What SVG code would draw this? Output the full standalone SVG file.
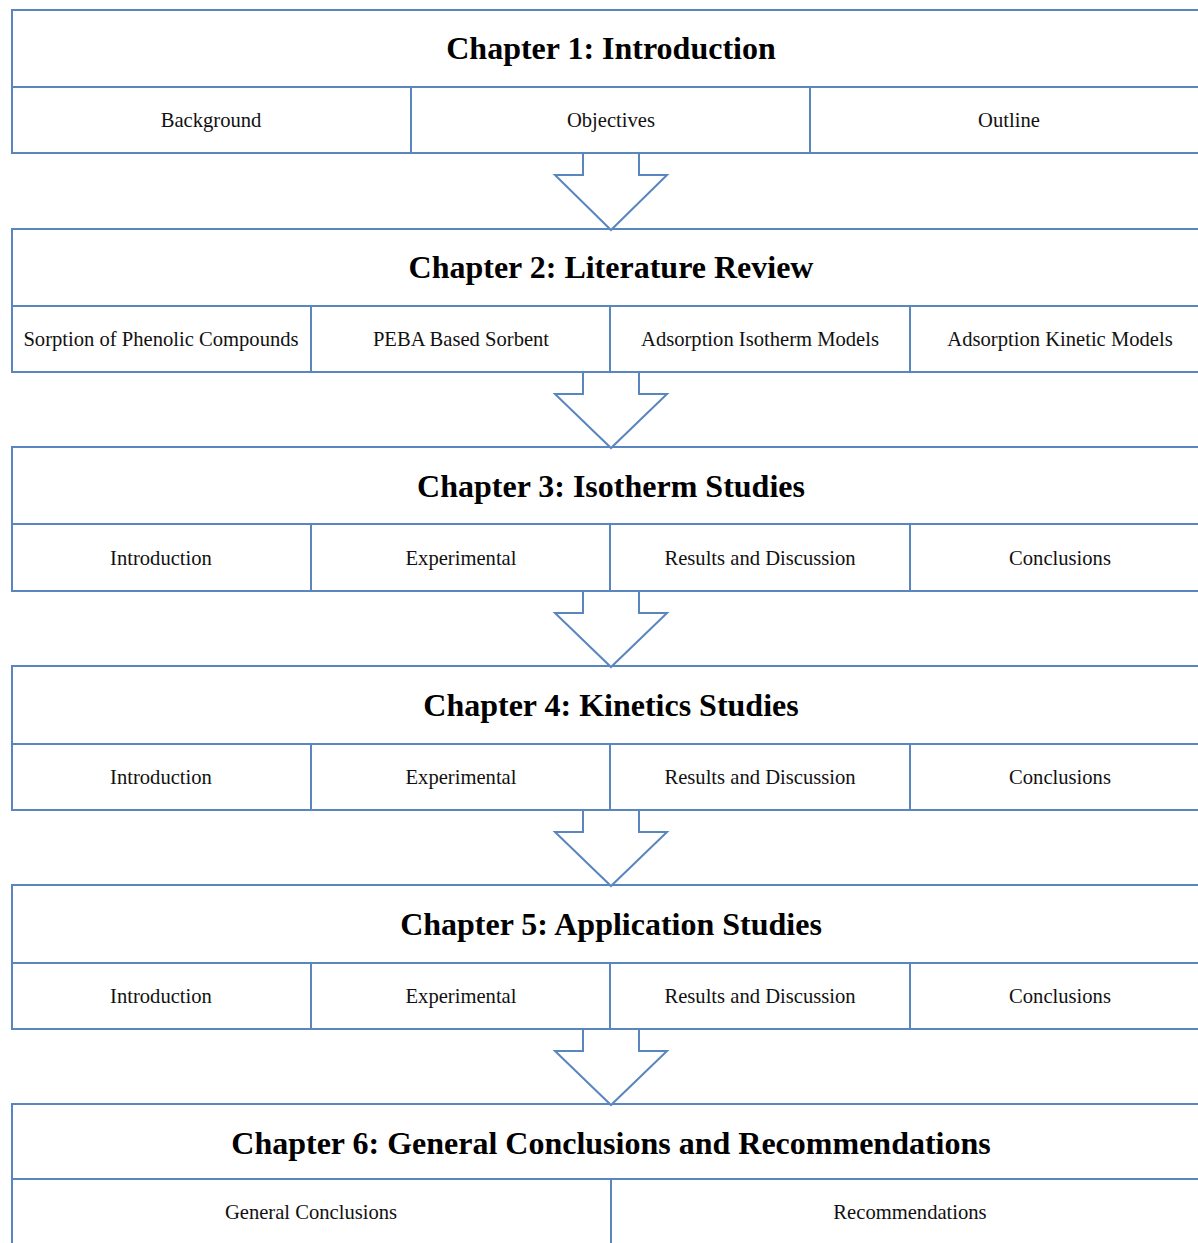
<svg xmlns="http://www.w3.org/2000/svg" width="1198" height="1243" viewBox="0 0 1198 1243">
<defs>
<style>
.box{fill:#fff;stroke:#5a86c0;stroke-width:2}
.ln{stroke:#5a86c0;stroke-width:2;fill:none}
.arr{fill:#fff;stroke:#5a86c0;stroke-width:2;stroke-linejoin:miter}
.t{font-family:"Liberation Serif","Times New Roman",serif;font-weight:bold;font-size:32px;text-anchor:middle;fill:#000}
.s{font-family:"Liberation Serif","Times New Roman",serif;font-size:20.6px;text-anchor:middle;fill:#111}
</style>
</defs>
<rect width="1198" height="1243" fill="#fff"/>
<g id="ch1">
<rect class="box" x="12" y="10" width="1200" height="143"/>
<line class="ln" x1="12" y1="87" x2="1212" y2="87"/>
<line class="ln" x1="411" y1="87" x2="411" y2="153"/>
<line class="ln" x1="810" y1="87" x2="810" y2="153"/>
<text class="t" x="611" y="59">Chapter 1: Introduction</text>
<text class="s" x="211" y="127">Background</text>
<text class="s" x="611" y="127">Objectives</text>
<text class="s" x="1009" y="127">Outline</text>
</g>
<g id="ch2">
<rect class="box" x="12" y="229" width="1200" height="143"/>
<line class="ln" x1="12" y1="306" x2="1212" y2="306"/>
<line class="ln" x1="311" y1="306" x2="311" y2="372"/>
<line class="ln" x1="610" y1="306" x2="610" y2="372"/>
<line class="ln" x1="910" y1="306" x2="910" y2="372"/>
<text class="t" x="611" y="278">Chapter 2: Literature Review</text>
<text class="s" x="161" y="346">Sorption of Phenolic Compounds</text>
<text class="s" x="461" y="346">PEBA Based Sorbent</text>
<text class="s" x="760" y="346">Adsorption Isotherm Models</text>
<text class="s" x="1060" y="346">Adsorption Kinetic Models</text>
</g>
<g id="ch3">
<rect class="box" x="12" y="447" width="1200" height="144"/>
<line class="ln" x1="12" y1="524" x2="1212" y2="524"/>
<line class="ln" x1="311" y1="524" x2="311" y2="591"/>
<line class="ln" x1="610" y1="524" x2="610" y2="591"/>
<line class="ln" x1="910" y1="524" x2="910" y2="591"/>
<text class="t" x="611" y="497">Chapter 3: Isotherm Studies</text>
<text class="s" x="161" y="565">Introduction</text>
<text class="s" x="461" y="565">Experimental</text>
<text class="s" x="760" y="565">Results and Discussion</text>
<text class="s" x="1060" y="565">Conclusions</text>
</g>
<g id="ch4">
<rect class="box" x="12" y="666" width="1200" height="144"/>
<line class="ln" x1="12" y1="744" x2="1212" y2="744"/>
<line class="ln" x1="311" y1="744" x2="311" y2="810"/>
<line class="ln" x1="610" y1="744" x2="610" y2="810"/>
<line class="ln" x1="910" y1="744" x2="910" y2="810"/>
<text class="t" x="611" y="716">Chapter 4: Kinetics Studies</text>
<text class="s" x="161" y="784">Introduction</text>
<text class="s" x="461" y="784">Experimental</text>
<text class="s" x="760" y="784">Results and Discussion</text>
<text class="s" x="1060" y="784">Conclusions</text>
</g>
<g id="ch5">
<rect class="box" x="12" y="885" width="1200" height="144"/>
<line class="ln" x1="12" y1="963" x2="1212" y2="963"/>
<line class="ln" x1="311" y1="963" x2="311" y2="1029"/>
<line class="ln" x1="610" y1="963" x2="610" y2="1029"/>
<line class="ln" x1="910" y1="963" x2="910" y2="1029"/>
<text class="t" x="611" y="935">Chapter 5: Application Studies</text>
<text class="s" x="161" y="1003">Introduction</text>
<text class="s" x="461" y="1003">Experimental</text>
<text class="s" x="760" y="1003">Results and Discussion</text>
<text class="s" x="1060" y="1003">Conclusions</text>
</g>
<g id="ch6">
<rect class="box" x="12" y="1104" width="1200" height="160"/>
<line class="ln" x1="12" y1="1179" x2="1212" y2="1179"/>
<line class="ln" x1="611" y1="1179" x2="611" y2="1264"/>
<text class="t" x="611" y="1154">Chapter 6: General Conclusions and Recommendations</text>
<text class="s" x="311" y="1219">General Conclusions</text>
<text class="s" x="910" y="1219">Recommendations</text>
</g>
<g id="connectors">
<polygon class="arr" points="583,153 583,175 555,175 611,230 667,175 639,175 639,153"/>
<polygon class="arr" points="583,372 583,394 555,394 611,448 667,394 639,394 639,372"/>
<polygon class="arr" points="583,591 583,613 555,613 611,667 667,613 639,613 639,591"/>
<polygon class="arr" points="583,810 583,832 555,832 611,886 667,832 639,832 639,810"/>
<polygon class="arr" points="583,1029 583,1051 555,1051 611,1105 667,1051 639,1051 639,1029"/>
</g>
</svg>
